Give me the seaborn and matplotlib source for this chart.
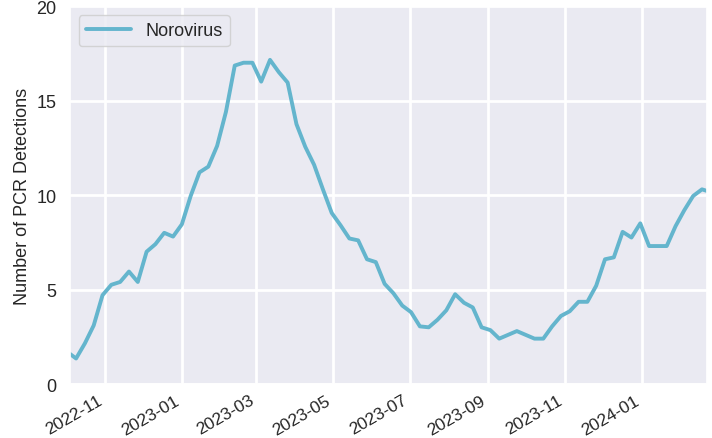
import pandas as pd
import seaborn as sns
import matplotlib
matplotlib.use("Agg")
import matplotlib.pyplot as plt
import matplotlib.dates as mdates

# weekly norovirus PCR detections
first_week = "2022-10-02"
detections = [1.7, 1.35, 2.15, 3.1, 4.7, 5.25, 5.4, 5.95, 5.4, 7.0,
              7.4, 8.0, 7.8, 8.45, 9.95, 11.2, 11.5, 12.6, 14.4, 16.85,
              17.0, 17.0, 16.0, 17.15, 16.5, 15.95, 13.75, 12.55, 11.6, 10.3,
              9.05, 8.4, 7.7, 7.6, 6.6, 6.45, 5.3, 4.8, 4.15, 3.8,
              3.05, 3.0, 3.4, 3.9, 4.75, 4.3, 4.05, 3.0, 2.85, 2.4,
              2.6, 2.8, 2.6, 2.4, 2.4, 3.05, 3.6, 3.85, 4.35, 4.35,
              5.2, 6.6, 6.7, 8.05, 7.75, 8.5, 7.3, 7.3, 7.3, 8.35,
              9.2, 9.95, 10.3, 10.15]
weeks = pd.date_range(first_week, periods=len(detections), freq="7D")

df = pd.DataFrame({"week": weeks, "detections": detections})

sns.set_theme(style="darkgrid")
plt.rcParams["font.family"] = ["Liberation Sans", "DejaVu Sans"]

fig = plt.figure(figsize=(7.12, 4.39), dpi=100)
ax = fig.add_axes([0.098, 0.123, 0.895, 0.861])

sns.lineplot(data=df, x="week", y="detections", ax=ax,
             color=sns.color_palette("deep")[9], linewidth=2.8, label="Norovirus")

ax.set_xlim(pd.Timestamp("2022-10-04"), pd.Timestamp("2024-02-22"))
ax.set_ylim(0, 20)
ax.set_yticks([0, 5, 10, 15, 20])
ax.xaxis.set_major_locator(mdates.MonthLocator(bymonth=[1, 3, 5, 7, 9, 11]))
ax.xaxis.set_major_formatter(mdates.DateFormatter("%Y-%m"))
for lab in ax.get_xticklabels():
    lab.set_rotation(30)
    lab.set_ha("right")
ax.tick_params(labelsize=13, colors="#262626")
ax.tick_params(axis="x", labelsize=12.5, pad=0)
ax.grid(linewidth=2, color="white")

ax.set_xlabel("")
ax.set_ylabel("Number of PCR Detections", fontsize=13, color="#262626")
ax.legend(loc="upper left", fontsize=13, handlelength=2.5, edgecolor="0.8")

fig.savefig("out.png", dpi=100)
